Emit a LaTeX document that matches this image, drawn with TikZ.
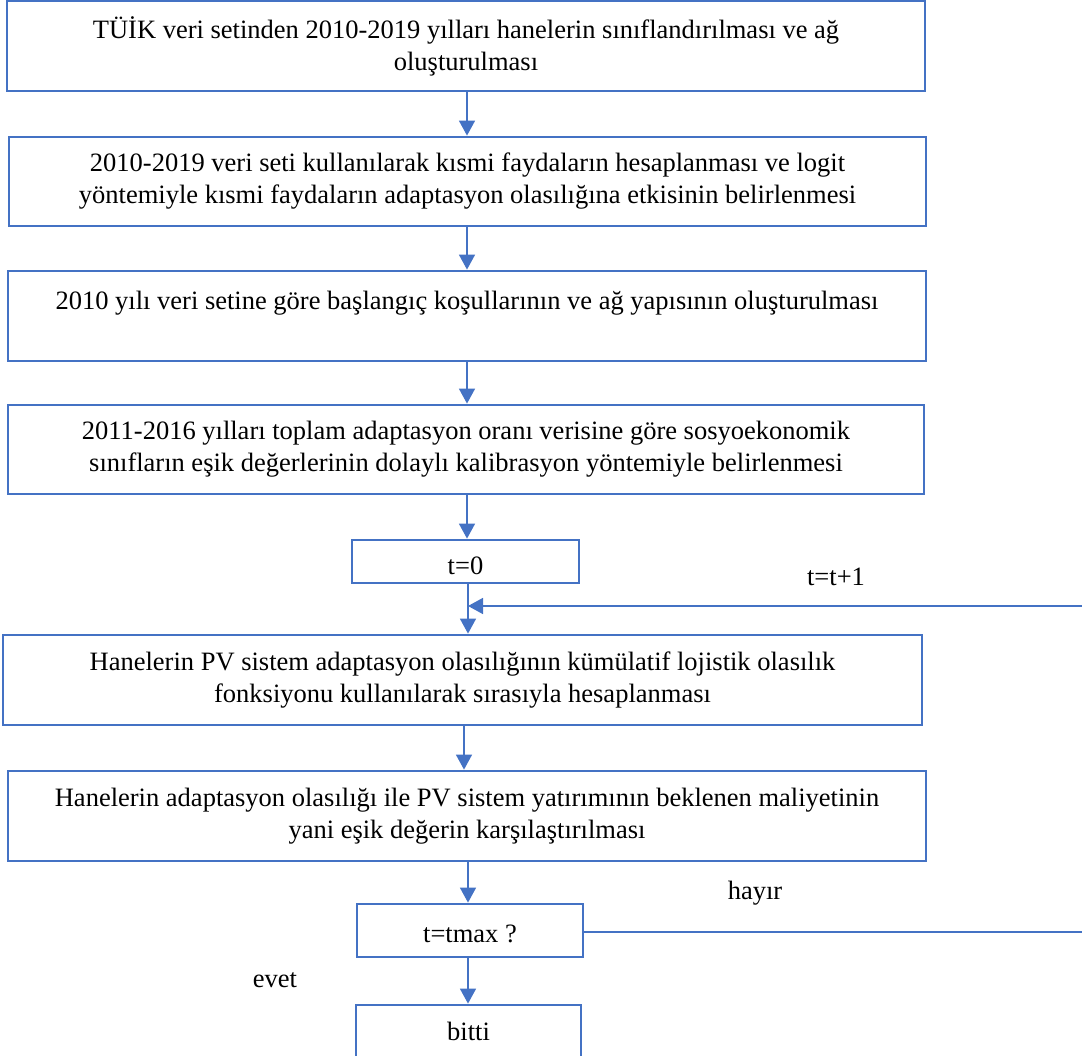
\documentclass[tikz,border=0pt]{standalone}
\usepackage{fontspec}
\setmainfont{Liberation Serif}
\usetikzlibrary{arrows.meta}
\definecolor{wblue}{HTML}{4472C4}
\tikzset{
  box/.style={draw=wblue, line width=2.8pt, fill=white, align=center, inner sep=0pt,
    font=\fontsize{26.5}{32}\selectfont},
  conn/.style={draw=wblue, line width=1.5pt},
  arr/.style={conn, -{Triangle[width=16pt,length=15pt]}},
  lbl/.style={font=\fontsize{26.5}{32}\selectfont, inner sep=0pt}
}
\begin{document}
\begin{tikzpicture}[x=1pt,y=-1pt]
\useasboundingbox (0,0) rectangle (1082,1056);
\clip (0,0) rectangle (1082,1056);
\node[box, minimum width=918pt, minimum height=90pt] (b1) at (466,46)
  {TÜİK veri setinden 2010-2019 yılları hanelerin sınıflandırılması ve ağ\\oluşturulması};
\node[box, minimum width=917pt, minimum height=89pt] (b2) at (467.5,181.5)
  {2010-2019 veri seti kullanılarak kısmi faydaların hesaplanması ve logit\\yöntemiyle kısmi faydaların adaptasyon olasılığına etkisinin belirlenmesi};
\node[box, minimum width=918pt, minimum height=90pt] (b3) at (467,316)
  {2010 yılı veri setine göre başlangıç koşullarının ve ağ yapısının oluşturulması\\\mbox{}};
\node[box, minimum width=916pt, minimum height=89pt] (b4) at (466,449.5)
  {2011-2016 yılları toplam adaptasyon oranı verisine göre sosyoekonomik\\sınıfların eşik değerlerinin dolaylı kalibrasyon yöntemiyle belirlenmesi};
\node[box, minimum width=227pt, minimum height=43pt] (t0) at (465.5,561.5)
  {\raisebox{-4pt}[\height][\depth]{t=0}};
\node[box, minimum width=919pt, minimum height=90pt] (b5) at (462.5,680)
  {Hanelerin PV sistem adaptasyon olasılığının kümülatif lojistik olasılık\\fonksiyonu kullanılarak sırasıyla hesaplanması};
\node[box, minimum width=918pt, minimum height=90pt] (b6) at (467,816)
  {Hanelerin adaptasyon olasılığı ile PV sistem yatırımının beklenen maliyetinin\\yani eşik değerin karşılaştırılması};
\node[box, minimum width=226pt, minimum height=53pt] (tm) at (470,930.5)
  {\raisebox{-3pt}[\height][\depth]{t=tmax ?}};
\node[box, minimum width=225pt, minimum height=52pt] (bt) at (468.5,1031) {bitti};

\coordinate (fb) at (1082,606);
\coordinate (no) at (1082,932);

\draw[arr] (b1.south -| 467,0) -- (b2.north -| 467,0);
\draw[arr] (b2.south -| 467,0) -- (b3.north -| 467,0);
\draw[arr] (b3.south -| 467,0) -- (b4.north -| 467,0);
\draw[arr] (b4.south -| 467,0) -- (t0.north -| 467,0);
\draw[arr] (t0.south -| 468,0) -- (b5.north -| 468,0);
\draw[arr] (fb) -- (468,606);
\draw[arr] (b5.south -| 464,0) -- (b6.north -| 464,0);
\draw[arr] (b6.south -| 468,0) -- (tm.north -| 468,0);
\draw[arr] (tm.south -| 468,0) -- (bt.north -| 468,0);
\draw[conn] (tm.east |- no) -- (no);

\node[lbl] (l1) at (836,577) {t=t+1};
\node[lbl] (l2) at (755,893) {hayır};
\node[lbl] (l3) at (275,980) {evet};
\end{tikzpicture}
\end{document}
